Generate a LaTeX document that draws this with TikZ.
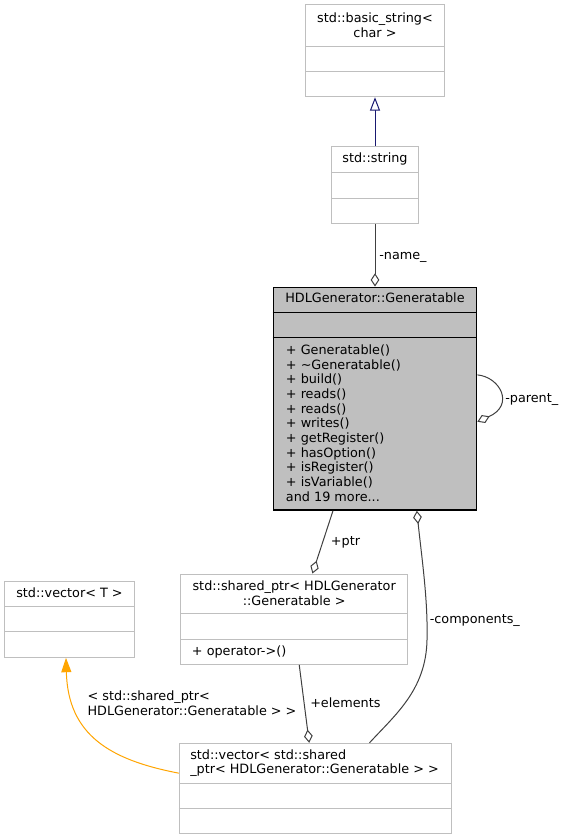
\documentclass[tikz,border=0pt]{standalone}
\usepackage{fontspec}
\setmainfont{DejaVu Sans}
\usetikzlibrary{arrows.meta,calc}
\definecolor{boxgray}{HTML}{BFBFBF}
\definecolor{edgegray}{HTML}{404040}
\definecolor{inhblue}{HTML}{191970}
\definecolor{tplorange}{HTML}{FFA500}
\tikzset{
  umlbox/.style={draw=boxgray, line width=0.75pt, fill=white, inner sep=0pt, rectangle},
  mainbox/.style={draw=black, line width=1.1pt, fill=boxgray, inner sep=0pt, rectangle},
  divider/.style={draw=boxgray, line width=0.75pt},
  maindivider/.style={draw=black, line width=1.1pt},
  txt/.style={inner sep=0pt, font=\fontsize{9.6}{11}\selectfont, text=black},
  rel/.style={draw=edgegray, line width=0.75pt},
  aggr/.style={rel, -{Diamond[open, fill=white, length=10pt, width=6.5pt]}},
  aggrstart/.style={rel, {Diamond[open, fill=white, length=10pt, width=6.5pt]}-},
  inherit/.style={draw=inhblue, line width=0.75pt, -{Triangle[open, fill=white, length=10pt, width=7.5pt]}},
  tplarrow/.style={draw=tplorange, line width=0.75pt, -{Triangle[length=10.8pt, width=7.5pt]}}
}
\begin{document}
\begin{tikzpicture}[x=0.75pt, y=-0.75pt]
\useasboundingbox[fill=white] (0,0) rectangle (565,840);

% std::basic_string< char >
\node[umlbox, minimum width=103.95pt, minimum height=68.8pt] (bs) at (375,50.85) {};
\draw[divider] (bs.west |- 0,46) -- (bs.east |- 0,46);
\draw[divider] (bs.west |- 0,71) -- (bs.east |- 0,71);
\node[txt, align=center, anchor=north] (bst) at (375,12.9) {std::basic\_string<\\char >};

% std::string
\node[umlbox, minimum width=64.95pt, minimum height=57.45pt] (str) at (375,185) {};
\draw[divider] (str.west |- 0,172.7) -- (str.east |- 0,172.7);
\draw[divider] (str.west |- 0,198) -- (str.east |- 0,198);
\node[txt, anchor=base] (strt) at (375,162.6) {std::string};

% HDLGenerator::Generatable
\node[mainbox, minimum width=152.55pt, minimum height=167pt] (gen) at (375,398.65) {};
\draw[maindivider] (gen.west |- 0,312.3) -- (gen.east |- 0,312.3);
\draw[maindivider] (gen.west |- 0,337.7) -- (gen.east |- 0,337.7);
\node[txt, anchor=base] (gent) at (375,302.6) {HDLGenerator::Generatable};
\node[txt, align=left, anchor=north west] (genm) at (285.7,344.6) {+ Generatable()\\+ \textasciitilde Generatable()\\+ build()\\+ reads()\\+ reads()\\+ writes()\\+ getRegister()\\+ hasOption()\\+ isRegister()\\+ isVariable()\\and 19 more...};

% std::vector< T >
\node[umlbox, minimum width=97.2pt, minimum height=57pt] (vt) at (69.5,619.3) {};
\draw[divider] (vt.west |- 0,606.3) -- (vt.east |- 0,606.3);
\draw[divider] (vt.west |- 0,631.7) -- (vt.east |- 0,631.7);
\node[txt, anchor=base] (vtt) at (69.5,597) {std::vector< T >};

% std::shared_ptr< HDLGenerator::Generatable >
\node[umlbox, minimum width=170.25pt, minimum height=67.7pt] (sp) at (294.2,619.15) {};
\draw[divider] (sp.west |- 0,613.3) -- (sp.east |- 0,613.3);
\draw[divider] (sp.west |- 0,639.3) -- (sp.east |- 0,639.3);
\node[txt, align=center, anchor=north] (spt) at (294.2,580.6) {std::shared\_ptr< HDLGenerator\\::Generatable >};
\node[txt, anchor=base west] (spm) at (191.7,655) {+ operator->()};

% std::vector< std::shared_ptr< HDLGenerator::Generatable > >
\node[umlbox, minimum width=204.3pt, minimum height=68pt] (vs) at (315.5,788.65) {};
\draw[divider] (vs.west |- 0,783.3) -- (vs.east |- 0,783.3);
\draw[divider] (vs.west |- 0,808.3) -- (vs.east |- 0,808.3);
\node[txt, align=left, anchor=north west] (vst) at (190,749.3) {std::vector< std::shared\\\_ptr< HDLGenerator::Generatable > >};

% inheritance
\draw[inherit] (str.north) -- (bs.south);

% -name_
\draw[aggr] (str.south) -- (gen.north);
\node[txt, anchor=base west] (lname) at (379,259.3) {-name\_};

% -parent_
\draw[aggr] ($(gen.north east)!0.394!(gen.south east)$) .. controls (500,377) and (515,405) .. ($(gen.north east)!0.603!(gen.south east)$);
\node[txt, anchor=base west] (lparent) at (505,402.6) {-parent\_};

% +ptr
\draw[aggr] ($(gen.south west)!0.295!(gen.south east)$) -- ($(sp.north west)!0.58!(sp.north east)$);
\node[txt, anchor=base west] (lptr) at (330.7,545) {+ptr};

% -components_
\draw[aggrstart] ($(gen.south west)!0.704!(gen.south east)$) .. controls (422,560) and (428,600) .. (427,640) .. controls (426,690) and (395,715) .. ($(vs.north west)!0.6975!(vs.north east)$);
\node[txt, anchor=base west] (lcomp) at (429.5,623.3) {-components\_};

% +elements
\draw[aggr] ($(sp.south west)!0.522!(sp.south east)$) -- ($(vs.north west)!0.477!(vs.north east)$);
\node[txt, anchor=base west] (lelem) at (310,707) {+elements};

% template instantiation
\draw[tplarrow] ($(vs.north west)!0.331!(vs.south west)$) .. controls (110,760) and (68,735) .. ($(vt.south west)!0.473!(vt.south east)$);
\node[txt, align=left, anchor=north west] (ltpl) at (87.3,690.6) {< std::shared\_ptr<\\HDLGenerator::Generatable > >};
\end{tikzpicture}
\end{document}
